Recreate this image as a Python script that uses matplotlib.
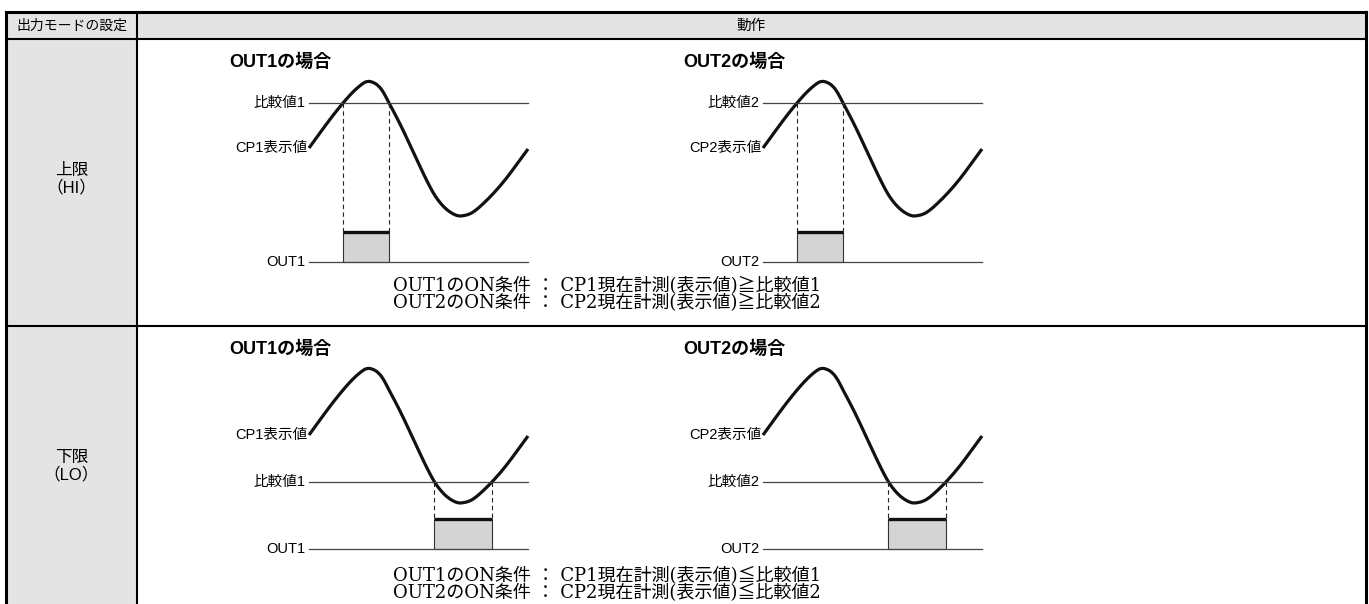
import numpy as np
import matplotlib.pyplot as plt
from matplotlib.patches import Rectangle, PathPatch
from matplotlib.path import Path

plt.rcParams['font.family'] = ['Liberation Sans', 'Noto Sans CJK JP']
serif = ['DejaVu Serif', 'Noto Sans CJK JP']

# Encabezados de la tabla
encabezados = ['出力モードの設定', '動作']
modos = ['上限\n（HI）', '下限\n（LO）']
titulos = ['OUT1の場合', 'OUT2の場合']
salidas = ['OUT1', 'OUT2']
etiq_umbral = ['比較値1', '比較値2']
etiq_valor = ['CP1表示値', 'CP2表示値']
condiciones = [
    ['OUT1のON条件 ： CP1現在計測(表示値)≧比較値1',
     'OUT2のON条件 ： CP2現在計測(表示値)≧比較値2'],
    ['OUT1のON条件 ： CP1現在計測(表示値)≦比較値1',
     'OUT2のON条件 ： CP2現在計測(表示値)≦比較値2'],
]

# Señal (tiempo, valor mostrado)
tiempo = [0, 8, 16, 25, 34, 41, 47, 53, 58, 64, 70, 75, 80, 87, 94, 101,
          108, 115, 121, 126, 132, 138, 144, 149, 153, 160, 166, 174, 185,
          197, 208, 219]
valor = [0, 11, 22, 34, 45, 53, 59, 64, 67, 66, 62, 55, 45, 32, 18, 3,
         -12, -27, -39, -48, -56, -62, -66, -68, -68, -66.5, -63, -56, -45,
         -31, -16, -1]
umbral = [45, -47]  # valor de comparación para HI y LO

# Posiciones (pixeles)
panel_x = [309, 763]
fila_base = [148, 435]
fila_out = [262, 549]
texto_dy = [24, 27]
alto_caja = 30
filas_y = [12, 39, 326, 604]
col_x = [6, 137, 1366]


def cruces(t, v, thr):
    t = np.asarray(t, float)
    v = np.asarray(v, float) - thr
    res = []
    for i in range(len(t) - 1):
        if v[i] == 0:
            res.append(t[i])
        elif v[i] * v[i + 1] < 0:
            res.append(t[i] - v[i] * (t[i + 1] - t[i]) / (v[i + 1] - v[i]))
    return res


def curva_suave(xs, ys):
    pts = np.column_stack([xs, ys])
    verts = [pts[0]]
    codes = [Path.MOVETO]
    n = len(pts)
    for i in range(1, n - 1):
        fin = pts[n - 1] if i == n - 2 else (pts[i] + pts[i + 1]) / 2
        verts += [pts[i], fin]
        codes += [Path.CURVE3, Path.CURVE3]
    return Path(verts, codes)


fig = plt.figure(figsize=(13.69, 6.04), dpi=100)
ax = fig.add_axes([0, 0, 1, 1])
ax.set_xlim(0, 1369)
ax.set_ylim(604, 0)
ax.axis('off')

# Tabla: fondos
ax.add_patch(Rectangle((col_x[0], filas_y[0]), col_x[2] - col_x[0], filas_y[1] - filas_y[0],
                       fc='#e4e4e4', ec='none'))
ax.add_patch(Rectangle((col_x[0], filas_y[1]), col_x[1] - col_x[0], filas_y[3] - filas_y[1],
                       fc='#e4e4e4', ec='none'))
# Tabla: líneas
ax.plot([col_x[0], col_x[2]], [filas_y[0]] * 2, color='k', lw=2.2)
ax.plot([col_x[0], col_x[0]], [filas_y[0], filas_y[3]], color='k', lw=2.2)
ax.plot([col_x[2], col_x[2]], [filas_y[0], filas_y[3]], color='k', lw=2.2)
ax.plot([col_x[1], col_x[1]], [filas_y[0], filas_y[3]], color='k', lw=1.5)
for y in filas_y[1:3]:
    ax.plot([col_x[0], col_x[2]], [y, y], color='k', lw=1.5)

ax.text((col_x[0] + col_x[1]) / 2, (filas_y[0] + filas_y[1]) / 2 + 0.5, encabezados[0],
        ha='center', va='center', fontsize=10)
ax.text((col_x[1] + col_x[2]) / 2, (filas_y[0] + filas_y[1]) / 2 + 0.5, encabezados[1],
        ha='center', va='center', fontsize=10.5)

for r in range(2):
    ax.text((col_x[0] + col_x[1]) / 2, fila_base[r] + 31, modos[r],
            ha='center', va='center', fontsize=12, linespacing=1.15)
    base = fila_base[r]
    thr_y = base - umbral[r]
    out_y = fila_out[r]
    top = out_y - alto_caja
    c1, c2 = cruces(tiempo, valor, umbral[r])[:2]
    for k in range(2):
        x0 = panel_x[k]
        xs = x0 + np.asarray(tiempo, float)
        ys = base - np.asarray(valor, float)
        ancho = tiempo[-1]
        ax.text(x0 - 80, base - 86, titulos[k], fontsize=13, fontweight='bold',
                ha='left', va='center')
        ax.plot([x0, x0 + ancho], [thr_y, thr_y], color='#444444', lw=0.9)
        ax.plot([x0, x0 + ancho], [out_y, out_y], color='#444444', lw=0.9)
        ax.add_patch(Rectangle((x0 + c1, top), c2 - c1, out_y - top,
                               fc='#d4d4d4', ec='#333333', lw=0.8))
        ax.plot([x0 + c1, x0 + c2], [top, top], color='#111111', lw=2.4,
                solid_capstyle='butt')
        for cx in (c1, c2):
            ax.plot([x0 + cx, x0 + cx], [thr_y, top], color='#222222', lw=0.8,
                    dashes=(4, 3))
        ax.add_patch(PathPatch(curva_suave(xs, ys), fc='none', ec='#111111',
                               lw=2.3, capstyle='butt', joinstyle='round'))
        ax.text(x0 - 4, thr_y, etiq_umbral[k], ha='right', va='center', fontsize=10.5)
        ax.text(x0 - 2, base, etiq_valor[k], ha='right', va='center', fontsize=10.5)
        ax.text(x0 - 4, out_y, salidas[k], ha='right', va='center', fontsize=10.5)
    for j, linea in enumerate(condiciones[r]):
        ax.text(393, out_y + texto_dy[r] + 17 * j, linea, ha='left', va='center',
                fontsize=13, family=serif)

fig.savefig('out.png', dpi=100)
